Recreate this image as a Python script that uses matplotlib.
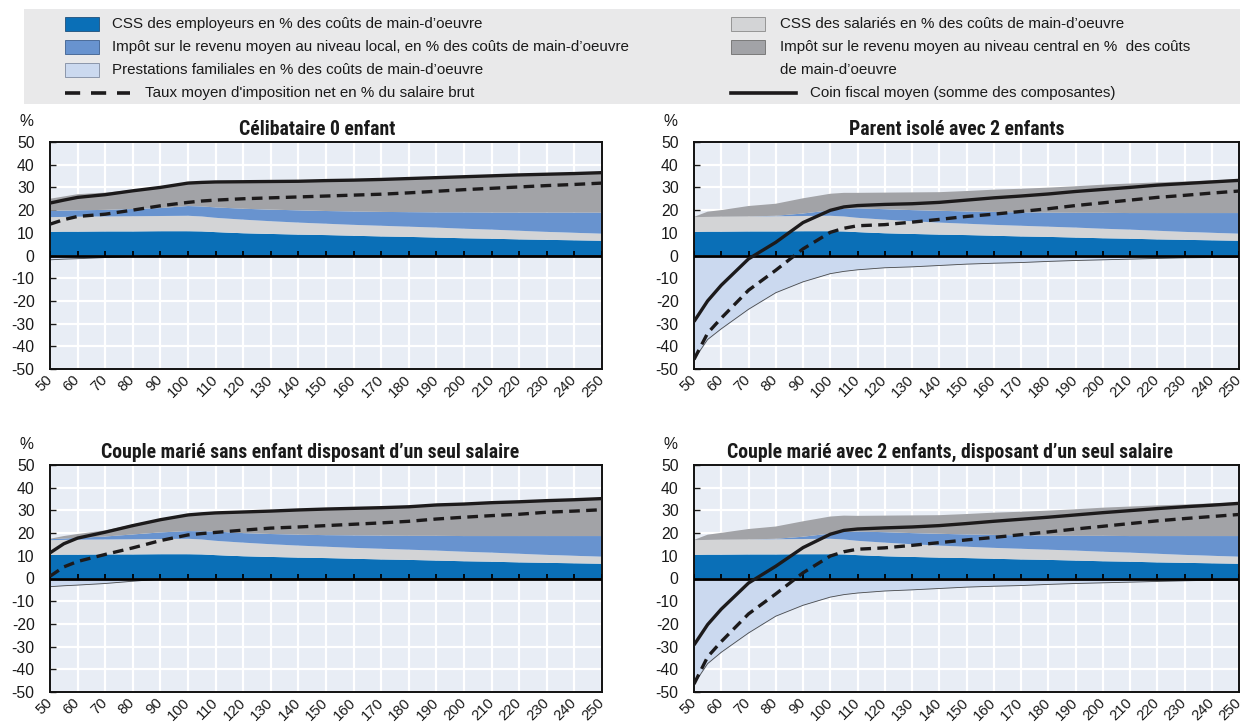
import matplotlib
matplotlib.use("Agg")
import matplotlib.pyplot as plt
from matplotlib import font_manager
from matplotlib.font_manager import FontProperties
from matplotlib.patches import Rectangle
from matplotlib.lines import Line2D

plt.rcParams["font.family"] = ["Liberation Sans", "DejaVu Sans"]
plt.rcParams["axes.unicode_minus"] = False

# salaire brut en % du salaire moyen
X = [50, 55, 60, 70, 80, 90, 100, 105, 110, 120, 130, 140, 150, 160, 170,
     180, 190, 200, 210, 220, 230, 240, 250]

# cotisations : identiques pour tous les ménages
CSS_EMP = [10.4, 10.5, 10.5, 10.6, 10.6, 10.7, 10.7, 10.6, 10.3, 9.8, 9.5, 9.2,
           9.0, 8.7, 8.4, 8.2, 7.9, 7.6, 7.4, 7.1, 6.9, 6.7, 6.5]
CSS_SAL = [6.5, 6.5, 6.6, 6.6, 6.7, 6.7, 6.8, 6.6, 6.3, 6.0, 5.6, 5.3,
           5.0, 4.8, 4.7, 4.5, 4.4, 4.2, 4.0, 3.8, 3.5, 3.3, 3.1]

# Célibataire 0 enfant
LOC_1 = [2.8, 2.8, 2.8, 2.9, 3.2, 3.5, 4.3, 4.4, 4.6, 4.8, 5.1, 5.4,
         5.6, 5.9, 6.1, 6.4, 6.7, 7.2, 7.5, 8.0, 8.5, 8.9, 9.3]
CEN_1 = [5.3, 6.2, 7.1, 7.6, 8.4, 9.1, 10.1, 10.6, 11.2, 11.9, 12.4, 12.8,
         13.4, 13.8, 14.3, 14.8, 15.3, 15.7, 16.2, 16.6, 16.9, 17.2, 17.6]
FAM_1 = [-1.9, -1.6, -1.4, -0.9, -0.4, 0, 0, 0, 0, 0, 0, 0,
         0, 0, 0, 0, 0, 0, 0, 0, 0, 0, 0]
COIN_1 = [23.1, 24.4, 25.6, 26.8, 28.5, 30.0, 31.9, 32.2, 32.4, 32.5, 32.6, 32.7,
          33.0, 33.2, 33.5, 33.9, 34.3, 34.7, 35.1, 35.5, 35.8, 36.1, 36.5]
NET_1 = [13.8, 15.8, 17.2, 18.2, 20.0, 21.9, 23.4, 24.0, 24.4, 25.0, 25.4, 25.8,
         26.2, 26.6, 27.0, 27.6, 28.3, 29.0, 29.6, 30.2, 30.8, 31.3, 31.9]

# Parent isolé avec 2 enfants
LOC_2 = [0, 0, 0, 0, 0.2, 1.1, 2.4, 3.4, 4.2, 4.6, 4.9, 5.2,
         5.4, 5.7, 5.9, 6.2, 6.5, 7.0, 7.3, 7.8, 8.3, 8.7, 9.1]
CEN_2 = [0.1, 2.3, 2.9, 4.6, 5.3, 6.7, 7.3, 7.0, 6.8, 7.3, 7.8, 8.2,
         9.0, 9.8, 10.4, 11.0, 11.7, 12.4, 13.0, 13.5, 13.9, 14.4, 14.8]
FAM_2 = [-45.8, -37.0, -32.3, -23.7, -16.4, -11.6, -8.0, -7.0, -6.3, -5.4, -5.0, -4.4,
         -3.8, -3.4, -3.1, -2.6, -2.2, -1.9, -1.6, -1.3, -1.0, -0.9, -0.9]
COIN_2 = [-29.1, -20.0, -13.1, -1.5, 5.8, 14.5, 19.9, 21.4, 22.0, 22.5, 22.8, 23.4,
          24.4, 25.4, 26.2, 27.1, 28.2, 29.1, 30.0, 31.0, 31.7, 32.4, 33.1]
NET_2 = [-45.8, -34.2, -27.6, -15.3, -6.5, 2.9, 10.2, 12.0, 13.1, 13.6, 14.7, 15.9,
         17.2, 18.2, 19.4, 20.6, 22.0, 23.2, 24.4, 25.6, 26.5, 27.5, 28.4]

# Couple marié sans enfant, un seul salaire
LOC_3 = [0.4, 0.6, 0.8, 1.3, 2.1, 2.9, 3.4, 3.6, 4.1, 4.2, 4.5, 4.8,
         5.1, 5.5, 5.8, 6.1, 6.5, 6.9, 7.3, 7.8, 8.3, 8.7, 9.1]
CEN_3 = [0.2, 1.1, 1.7, 2.7, 4.4, 5.8, 7.1, 7.7, 8.2, 9.3, 10.1, 10.9,
         11.5, 11.9, 12.3, 12.8, 13.6, 14.1, 14.7, 15.1, 15.6, 16.0, 16.5]
FAM_3 = [-3.6, -3.2, -2.9, -2.2, -1.2, -0.3, 0, 0, 0, 0, 0, 0,
         0, 0, 0, 0, 0, 0, 0, 0, 0, 0, 0]
COIN_3 = [11.3, 15.3, 17.8, 20.4, 23.3, 25.9, 28.0, 28.5, 28.9, 29.3, 29.7, 30.2,
          30.6, 30.9, 31.2, 31.6, 32.4, 32.8, 33.4, 33.8, 34.3, 34.7, 35.2]
NET_3 = [1.0, 5.1, 7.5, 10.6, 13.5, 16.7, 19.2, 19.8, 20.3, 21.3, 22.2, 22.7,
         23.3, 23.9, 24.5, 25.2, 26.2, 27.0, 27.7, 28.3, 29.2, 29.7, 30.3]

# Couple marié avec 2 enfants, un seul salaire
LOC_4 = [0, 0, 0, 0, 0.2, 1.0, 2.3, 3.3, 4.1, 4.6, 4.9, 5.2,
         5.4, 5.7, 5.9, 6.2, 6.5, 7.0, 7.3, 7.8, 8.3, 8.7, 9.1]
CEN_4 = [0.1, 2.3, 3.0, 4.6, 5.4, 6.8, 7.5, 7.2, 6.9, 7.3, 7.8, 8.2,
         9.0, 9.8, 10.4, 11.0, 11.7, 12.4, 13.0, 13.5, 13.9, 14.4, 14.8]
FAM_4 = [-46.5, -37.5, -32.5, -24.0, -16.6, -11.8, -8.2, -7.1, -6.4, -5.5, -5.0, -4.4,
         -3.8, -3.4, -3.1, -2.6, -2.2, -1.9, -1.6, -1.3, -1.0, -0.8, -0.7]
COIN_4 = [-29.3, -20.3, -13.5, -2.0, 5.4, 13.6, 19.5, 21.2, 21.8, 22.3, 22.7, 23.3,
          24.2, 25.2, 26.1, 27.0, 28.0, 29.0, 29.9, 30.8, 31.6, 32.3, 33.1]
NET_4 = [-46.5, -34.5, -27.8, -15.6, -6.8, 2.5, 9.9, 11.8, 12.9, 13.5, 14.6, 15.8,
         17.0, 18.1, 19.3, 20.5, 21.8, 23.0, 24.2, 25.4, 26.4, 27.3, 28.2]

PANELS = [
    ("Célibataire 0 enfant", LOC_1, CEN_1, FAM_1, COIN_1, NET_1),
    ("Parent isolé avec 2 enfants", LOC_2, CEN_2, FAM_2, COIN_2, NET_2),
    ("Couple marié sans enfant disposant d\u2019un seul salaire", LOC_3, CEN_3, FAM_3, COIN_3, NET_3),
    ("Couple marié avec 2 enfants, disposant d\u2019un seul salaire", LOC_4, CEN_4, FAM_4, COIN_4, NET_4),
]
TITLE_X = [0.484, 0.482, 0.471, 0.470]

LEG_LEFT = [
    "CSS des employeurs en % des coûts de main-d\u2019oeuvre",
    "Impôt sur le revenu moyen au niveau local, en % des coûts de main-d\u2019oeuvre",
    "Prestations familiales en % des coûts de main-d\u2019oeuvre",
    "Taux moyen d'imposition net en % du salaire brut",
]
LEG_RIGHT = [
    "CSS des salariés en % des coûts de main-d\u2019oeuvre",
    "Impôt sur le revenu moyen au niveau central en %  des coûts\nde main-d\u2019oeuvre",
    "Coin fiscal moyen (somme des composantes)",
]

C_EMP = "#0a6fb7"
C_SAL = "#d3d4d6"
C_LOC = "#6893cf"
C_CEN = "#a2a3a7"
C_FAM = "#cbd9ef"
C_BG = "#e8edf5"
C_LINE = "#1c1a1b"
C_TXT = "#1a1a1a"
LEG_FS = 10.9
YTICK_FS = 11.3
XTICK_FS = 10.7


def condensed_bold():
    # titles are set in a narrow bold face; use one if the machine has it
    def wt(f):
        w = f.weight
        return font_manager.weight_dict.get(w, 400) if isinstance(w, str) else w
    best = None
    for f in font_manager.fontManager.ttflist:
        name = f.name.lower()
        st = str(f.stretch).lower()
        narrow = ("narrow" in name or "condensed" in name or "condensed" in st
                  or (isinstance(f.stretch, int) and f.stretch < 500))
        if narrow and wt(f) >= 600 and f.style == "normal":
            rank = 0 if "liberation" in name else 1 if "roboto" in name else 2
            if best is None or rank < best[0]:
                best = (rank, f.fname)
    if best:
        return FontProperties(fname=best[1], size=14.2)
    return FontProperties(family="Liberation Sans", weight="bold", size=12.0)


TITLE_FP = condensed_bold()

W, H = 1248, 724
fig = plt.figure(figsize=(W / 100, H / 100), dpi=100)


def fx(px):
    return px / W


def fy(py):
    return 1 - py / H


# ---- legend block
fig.add_artist(Rectangle((fx(24), fy(104)), fx(1240) - fx(24), fy(9) - fy(104),
                         transform=fig.transFigure, color="#e9e9ea", lw=0, zorder=0))
rows = [24, 47, 70, 93]
left_items = [(C_EMP, "#1f4f7a"), (C_LOC, "#3d5f8f"), (C_FAM, "#7f8aa0")]
right_items = [(C_SAL, "#8a8a8a"), (C_CEN, "#6e6e6e")]
for k, (fc, ec) in enumerate(left_items):
    fig.add_artist(Rectangle((fx(65), fy(rows[k] + 7)), fx(34), fy(0) - fy(14),
                             transform=fig.transFigure, facecolor=fc, edgecolor=ec, lw=0.6))
    fig.text(fx(112), fy(rows[k]), LEG_LEFT[k], ha="left", va="center",
             fontsize=LEG_FS, color=C_TXT)
for k, (fc, ec) in enumerate(right_items):
    fig.add_artist(Rectangle((fx(731), fy(rows[k] + 7)), fx(34), fy(0) - fy(14),
                             transform=fig.transFigure, facecolor=fc, edgecolor=ec, lw=0.6))
    first, *rest = LEG_RIGHT[k].split("\n")
    fig.text(fx(780), fy(rows[k]), first, ha="left", va="center", fontsize=LEG_FS, color=C_TXT)
    for j, line in enumerate(rest):
        fig.text(fx(780), fy(rows[k + 1 + j]), line, ha="left", va="center",
                 fontsize=LEG_FS, color=C_TXT)
fig.add_artist(Line2D([fx(65), fx(130)], [fy(93), fy(93)], transform=fig.transFigure,
                      color=C_LINE, lw=2.6, dashes=(4.2, 3.0)))
fig.text(fx(145), fy(93), LEG_LEFT[3], ha="left", va="center", fontsize=LEG_FS, color=C_TXT)
fig.add_artist(Line2D([fx(731), fx(796)], [fy(93), fy(93)], transform=fig.transFigure,
                      color=C_LINE, lw=2.6))
fig.text(fx(810), fy(93), LEG_RIGHT[2], ha="left", va="center", fontsize=LEG_FS, color=C_TXT)

# ---- panels: (left, top, right, bottom) in pixels
boxes = [(50, 142, 602, 369), (694, 142, 1239, 369),
         (50, 465, 602, 692), (694, 465, 1239, 692)]
xticks = list(range(50, 251, 10))

for (title, loc, cen, fam, coin, net), (l, t, r, b), tx in zip(PANELS, boxes, TITLE_X):
    ax = fig.add_axes([fx(l), fy(b), fx(r) - fx(l), fy(t) - fy(b)])
    ax.set_facecolor(C_BG)
    ax.stackplot(X, CSS_EMP, CSS_SAL, loc, cen, colors=[C_EMP, C_SAL, C_LOC, C_CEN],
                 lw=0, zorder=1)
    ax.fill_between(X, fam, 0, color=C_FAM, lw=0, zorder=1)
    ax.plot(X, fam, color="#4a4a4a", lw=0.6, zorder=2)
    ax.axhline(0, color="black", lw=2.0, zorder=3)
    ax.vlines(xticks, 0, 2.0, color="black", lw=1.3, zorder=3)
    ax.plot(X, coin, color=C_LINE, lw=2.4, zorder=4, solid_capstyle="butt")
    ax.plot(X, net, color=C_LINE, lw=2.4, dashes=(3.2, 1.9), zorder=4)

    ax.set_xlim(50, 250)
    ax.set_ylim(-50, 50)
    ax.set_xticks(xticks)
    ax.set_yticks(range(-50, 51, 10))
    ax.grid(color="white", lw=1.6)
    ax.set_axisbelow(True)
    for sp in ax.spines.values():
        sp.set_linewidth(1.4)
        sp.set_color("#111111")
    ax.tick_params(axis="y", direction="in", length=4, width=1, pad=11,
                   labelsize=YTICK_FS, colors=C_TXT)
    ax.tick_params(axis="x", length=0, pad=6, labelsize=XTICK_FS, colors=C_TXT)
    for lbl in ax.get_xticklabels():
        lbl.set_rotation(45)
        lbl.set_ha("right")
        lbl.set_va("center")
        lbl.set_rotation_mode("anchor")
    ax.set_title(title, x=tx, pad=5, fontproperties=TITLE_FP, color=C_TXT)
    ax.text(-0.043, 1.09, "%", transform=ax.transAxes, ha="center", va="center",
            fontsize=YTICK_FS, color=C_TXT)

fig.savefig("out.png", dpi=100)
